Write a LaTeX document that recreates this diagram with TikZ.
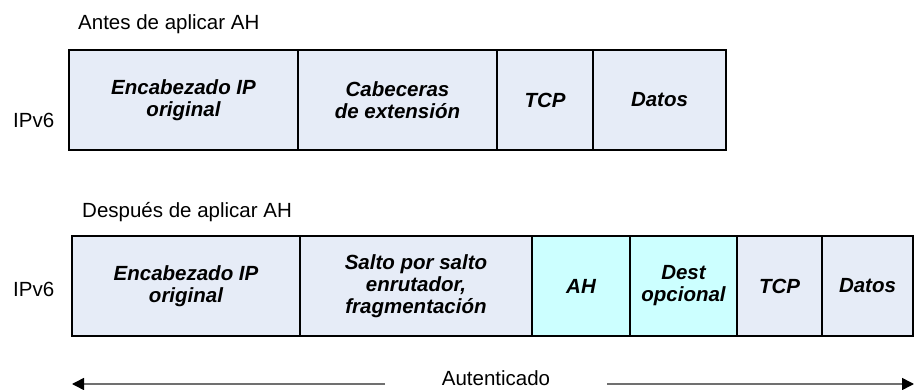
\documentclass[tikz,border=0pt]{standalone}
\usepackage{fontspec}
\setmainfont{Liberation Sans}
\usetikzlibrary{arrows.meta}
\definecolor{cellblue}{HTML}{E6ECF7}
\definecolor{cellcyan}{HTML}{CCFFFF}
\definecolor{arrowgray}{HTML}{707070}
\tikzset{
  cell/.style={draw=black, line width=1.3pt, fill=cellblue, inner sep=0pt, outer sep=0pt,
    minimum height=100pt, align=center,
    font=\fontsize{20.5}{22}\selectfont\bfseries\itshape},
  cyancell/.style={cell, fill=cellcyan},
  plainlabel/.style={inner sep=0pt, font=\fontsize{20.5}{22}\selectfont},
  authline/.style={draw=arrowgray, line width=1.5pt},
  authtip/.style={-{Triangle[length=12pt,width=12pt,color=black]}}
}
\begin{document}
\begin{tikzpicture}[x=1pt,y=-1pt]
\useasboundingbox (0,0) rectangle (914,390);

% top row
\node[plainlabel, anchor=base west] (antes) at (78,30) {Antes de aplicar AH};
\node[plainlabel, anchor=west] (ipa) at (13,120) {IPv6};
\node[cell, minimum width=229pt] (a1) at (183.5,100) {Encabezado IP\\original};
\node[cell, minimum width=199pt] (a2) at (397.5,100) {Cabeceras\\de extensión};
\node[cell, minimum width=96pt]  (a3) at (545,100) {TCP};
\node[cell, minimum width=133pt] (a4) at (659.5,100) {Datos};

% bottom row
\node[plainlabel, anchor=base west] (despues) at (82,218) {Después de aplicar AH};
\node[plainlabel, anchor=west] (ipb) at (13,289) {IPv6};
\node[cell, minimum width=228pt] (b1) at (186,286) {Encabezado IP\\original};
\node[cell, minimum width=232pt] (b2) at (416,286) {Salto por salto\\enrutador,\\fragmentación};
\node[cyancell, minimum width=98pt] (b3) at (581,286) {AH};
\node[cyancell, minimum width=107pt] (b4) at (683.5,286) {Dest\\opcional};
\node[cell, minimum width=85pt] (b5) at (779.5,286) {TCP};
\node[cell, minimum width=91pt] (b6) at (867.5,286) {Datos};

% authenticated span
\node[plainlabel, anchor=base] (auth) at (496,385) {Autenticado};
\coordinate (la) at (72,384);
\coordinate (lb) at (385,384);
\coordinate (ra) at (607,384);
\coordinate (rb) at (914,384);
\draw[authline, authtip] (lb) -- (la);
\draw[authline, authtip] (ra) -- (rb);
\end{tikzpicture}
\end{document}
